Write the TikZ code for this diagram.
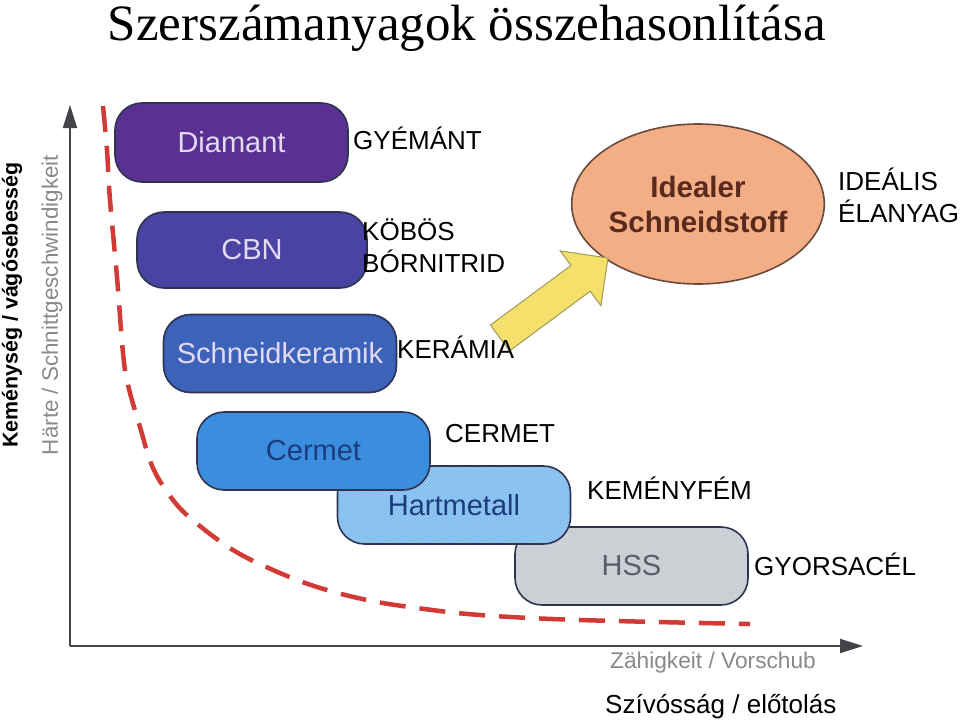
\documentclass[tikz,border=0pt]{standalone}
\usepackage{fontspec}
\setmainfont{Liberation Sans}
\newfontfamily\seriffont{Liberation Serif}
\usetikzlibrary{shapes.geometric,patterns,arrows.meta}
\definecolor{cdiam}{HTML}{5A3193}
\definecolor{ccbn}{HTML}{4A43A3}
\definecolor{ckera}{HTML}{3C62BA}
\definecolor{ccerm}{HTML}{3A8EDD}
\definecolor{chart}{HTML}{7DBBEE}
\definecolor{chartln}{HTML}{A9D3F6}
\definecolor{chss}{HTML}{CBCDD4}
\definecolor{boxline}{HTML}{2E3350}
\definecolor{txtlight}{HTML}{E2DAF2}
\definecolor{txtdark}{HTML}{1C3C7E}
\definecolor{txthss}{HTML}{5A5C66}
\definecolor{ellfill}{HTML}{F3AE86}
\definecolor{elltxt}{HTML}{5A2A1C}
\definecolor{ellline}{HTML}{6A4A3A}
\definecolor{arrowyel}{HTML}{F4E06A}
\definecolor{arrowedge}{HTML}{A09A5A}
\definecolor{curvered}{HTML}{D23A36}
\definecolor{axisgray}{HTML}{444448}
\definecolor{lblgray}{HTML}{8A8A8E}
\begin{document}
\begin{tikzpicture}[x=1pt,y=-1pt,
  tool/.style={draw=boxline, line width=1.6pt, rounded corners=27pt,
    minimum width=233pt, minimum height=78pt, inner sep=0pt,
    font=\fontsize{29}{29}\selectfont},
  lbl/.style={anchor=base west, inner sep=0pt, font=\fontsize{26}{26}\selectfont},
  axisline/.style={draw=axisgray, line width=2pt, -{Triangle[length=23pt,width=14pt]}},
  curve/.style={draw=curvered, line width=4.5pt, dash pattern=on 26pt off 14pt}]
\fill[white] (0,0) rectangle (960,723);
\useasboundingbox (0,0) rectangle (960,723);

% title
\node[anchor=base, inner sep=0pt, text height=35pt, text depth=11pt, font=\seriffont\fontsize{51}{51}\selectfont] (title) at (467,40) {Szerszámanyagok összehasonlítása};

% axes
\coordinate (origin) at (70,646);
\coordinate (ytop) at (70,105);
\coordinate (xend) at (863,646);
\draw[axisline] (origin) -- (ytop);
\draw[axisline] (origin) -- (xend);

% axis labels
\node[rotate=90, text=lblgray, inner sep=0pt, font=\fontsize{22.4}{22.4}\selectfont] (ylabde) at (52,305) {Härte / Schnittgeschwindigkeit};
\node[rotate=90, inner sep=0pt, font=\bfseries\fontsize{21.4}{21.4}\selectfont] (ylabhu) at (12,305) {Keménység / vágósebesség};
\node[text=lblgray, inner sep=0pt, font=\fontsize{22.7}{22.7}\selectfont] (xlabde) at (713,663) {Zähigkeit / Vorschub};
\node[lbl] (xlabhu) at (605,713) {Szívósság / előtolás};

% dashed limit curve
\draw[curve] plot[smooth, tension=0.6] coordinates {(103,106) (107,150) (110,200) (117,277) (123,353) (128,385) (140,427) (153,468) (173,500) (195,522) (233,550) (273,570) (317,587) (367,600) (417,608) (480,615) (580,620) (750,624)};

% tool material boxes (back to front)
\node[tool, preaction={fill=chss}, pattern=dots, pattern color=white!75!chss, text=txthss] (hss) at (631.5,566) {HSS};
\node[tool, preaction={fill=chart}, pattern=north east lines, pattern color=chartln, text=txtdark] (hart) at (454,505) {Hartmetall};
\node[tool, fill=ccerm, text=txtdark] (cermet) at (313.5,451) {Cermet};
\node[tool, fill=ckera, text=txtlight] (kera) at (280,353.5) {Schneidkeramik};
\node[tool, fill=ccbn, text=txtlight, minimum width=230pt, minimum height=76pt] (cbn) at (252,250) {CBN};
\node[tool, fill=cdiam, text=txtlight, minimum height=79pt] (diamant) at (231.5,142.5) {Diamant};

% ideal material
\node[ellipse, draw=ellline, line width=1.6pt, fill=ellfill, minimum width=244pt, minimum height=160pt, inner sep=0pt, align=center, text=elltxt, font=\bfseries\fontsize{29.5}{35}\selectfont] (ideal) at (698,204) {Idealer\\Schneidstoff};

% yellow block arrow
\draw[fill=arrowyel, draw=arrowedge, line width=1pt, line join=miter]
  (490.4,325.1) -- (571.0,265.4) -- (560.3,250.9) -- (608,258) -- (600.9,305.7) -- (590.2,291.2) -- (509.6,350.9) -- cycle;

% Hungarian labels
\node[lbl] (gyemant) at (353,149) {GYÉMÁNT};
\node[lbl] (kobos) at (362,240) {KÖBÖS};
\node[lbl] (bornitrid) at (362,272) {BÓRNITRID};
\node[lbl] (keramia) at (397,358) {KERÁMIA};
\node[lbl] (cermethu) at (445,442) {CERMET};
\node[lbl] (kemenyfem) at (587,499) {KEMÉNYFÉM};
\node[lbl] (gyorsacel) at (754,575) {GYORSACÉL};
\node[lbl] (idealis) at (838,190) {IDEÁLIS};
\node[lbl] (elanyag) at (838,222) {ÉLANYAG};
\end{tikzpicture}
\end{document}
